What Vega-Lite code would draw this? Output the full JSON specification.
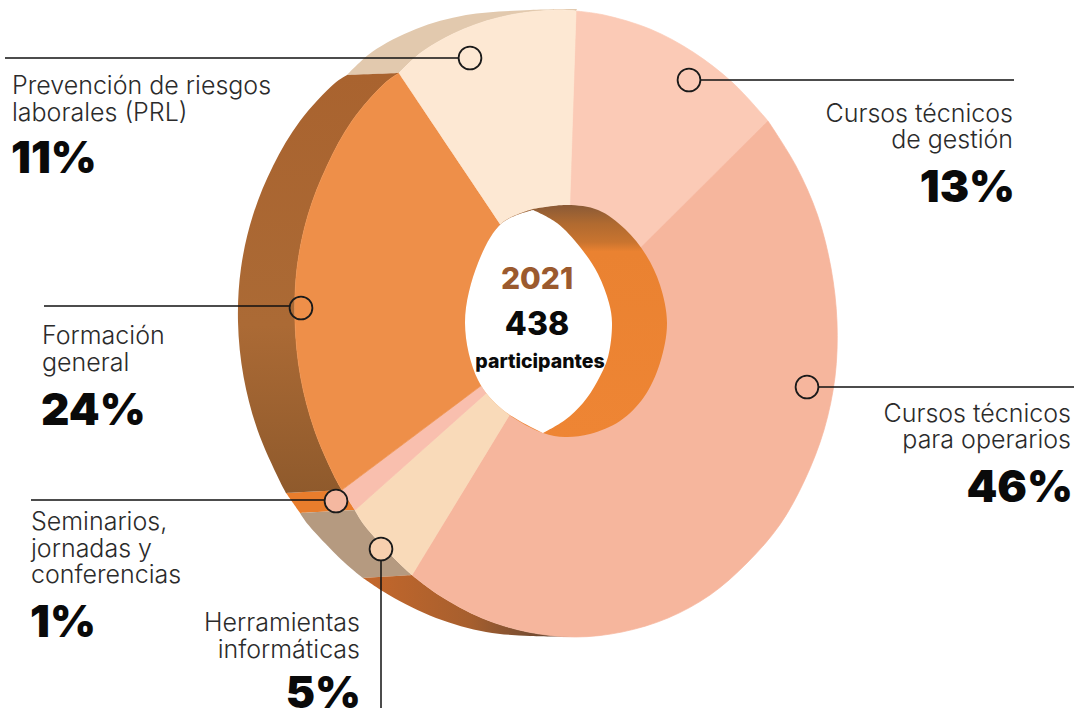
{"$schema":"https://vega.github.io/schema/vega-lite/v6.json","width":1080,"height":713,"padding":0,"autosize":"none","background":"white","view":{"stroke":null},
"datasets":{
"shapes":[
{"p":"tan","i":0,"x":399,"y":73},{"p":"tan","i":1,"x":347,"y":75},{"p":"tan","i":2,"x":347,"y":75},{"p":"tan","i":3,"x":372,"y":52},{"p":"tan","i":4,"x":416,"y":29},{"p":"tan","i":5,"x":466,"y":15},{"p":"tan","i":6,"x":530,"y":10},{"p":"tan","i":7,"x":577,"y":9},{"p":"tan","i":8,"x":577,"y":9},{"p":"tan","i":9,"x":576,"y":11},{"p":"tan","i":10,"x":576,"y":11},{"p":"tan","i":11,"x":557,"y":10},{"p":"tan","i":12,"x":510,"y":15},{"p":"tan","i":13,"x":464,"y":29},{"p":"tan","i":14,"x":422,"y":52},{"p":"tan","i":15,"x":399,"y":73},
{"p":"brown","i":0,"x":347,"y":75},{"p":"brown","i":1,"x":347,"y":75},{"p":"brown","i":2,"x":335,"y":83},{"p":"brown","i":3,"x":300,"y":121},{"p":"brown","i":4,"x":273,"y":166},{"p":"brown","i":5,"x":253,"y":215},{"p":"brown","i":6,"x":241,"y":268},{"p":"brown","i":7,"x":238,"y":322},{"p":"brown","i":8,"x":243.6,"y":377},{"p":"brown","i":9,"x":257.5,"y":430},{"p":"brown","i":10,"x":279,"y":479.5},{"p":"brown","i":11,"x":286,"y":493},{"p":"brown","i":12,"x":286,"y":493},{"p":"brown","i":13,"x":342,"y":490},{"p":"brown","i":14,"x":342,"y":490},{"p":"brown","i":15,"x":336,"y":479.5},{"p":"brown","i":16,"x":314.5,"y":430},{"p":"brown","i":17,"x":300.6,"y":377},{"p":"brown","i":18,"x":295,"y":322},{"p":"brown","i":19,"x":297,"y":268},{"p":"brown","i":20,"x":308,"y":215},{"p":"brown","i":21,"x":327,"y":166},{"p":"brown","i":22,"x":352,"y":121},{"p":"brown","i":23,"x":385,"y":83},{"p":"brown","i":24,"x":399,"y":73},{"p":"brown","i":25,"x":399,"y":73},{"p":"brown","i":26,"x":347,"y":75},{"p":"brown","i":27,"x":347,"y":75},
{"p":"strip","i":0,"x":286,"y":493},{"p":"strip","i":1,"x":286,"y":493},{"p":"strip","i":2,"x":300,"y":513},{"p":"strip","i":3,"x":300,"y":513},{"p":"strip","i":4,"x":355,"y":510},{"p":"strip","i":5,"x":355,"y":510},{"p":"strip","i":6,"x":342,"y":490},{"p":"strip","i":7,"x":342,"y":490},{"p":"strip","i":8,"x":286,"y":493},{"p":"strip","i":9,"x":286,"y":493},
{"p":"greytan","i":0,"x":300,"y":513},{"p":"greytan","i":1,"x":300,"y":513},{"p":"greytan","i":2,"x":308,"y":524.5},{"p":"greytan","i":3,"x":345,"y":563},{"p":"greytan","i":4,"x":363,"y":578},{"p":"greytan","i":5,"x":363,"y":578},{"p":"greytan","i":6,"x":412,"y":575},{"p":"greytan","i":7,"x":412,"y":575},{"p":"greytan","i":8,"x":399,"y":563},{"p":"greytan","i":9,"x":364,"y":524.5},{"p":"greytan","i":10,"x":355,"y":510},{"p":"greytan","i":11,"x":355,"y":510},{"p":"greytan","i":12,"x":300,"y":513},{"p":"greytan","i":13,"x":300,"y":513},
{"p":"bottom","i":0,"x":363,"y":578},{"p":"bottom","i":1,"x":363,"y":578},{"p":"bottom","i":2,"x":389,"y":595},{"p":"bottom","i":3,"x":436,"y":618},{"p":"bottom","i":4,"x":486,"y":632},{"p":"bottom","i":5,"x":530,"y":636},{"p":"bottom","i":6,"x":575.5,"y":637},{"p":"bottom","i":7,"x":575.5,"y":637},{"p":"bottom","i":8,"x":528,"y":632},{"p":"bottom","i":9,"x":482,"y":618},{"p":"bottom","i":10,"x":439,"y":595},{"p":"bottom","i":11,"x":412,"y":575},{"p":"bottom","i":12,"x":412,"y":575},{"p":"bottom","i":13,"x":363,"y":578},{"p":"bottom","i":14,"x":363,"y":578},
{"p":"gestion","i":0,"x":566,"y":322},{"p":"gestion","i":1,"x":566,"y":322},{"p":"gestion","i":2,"x":576,"y":11},{"p":"gestion","i":3,"x":576,"y":11},{"p":"gestion","i":4,"x":604,"y":15},{"p":"gestion","i":5,"x":650,"y":29},{"p":"gestion","i":6,"x":693,"y":52},{"p":"gestion","i":7,"x":733,"y":83},{"p":"gestion","i":8,"x":768,"y":121},{"p":"gestion","i":9,"x":768,"y":121},{"p":"gestion","i":10,"x":566,"y":322},{"p":"gestion","i":11,"x":566,"y":322},
{"p":"operarios","i":0,"x":566,"y":322},{"p":"operarios","i":1,"x":566,"y":322},{"p":"operarios","i":2,"x":768,"y":121},{"p":"operarios","i":3,"x":768,"y":121},{"p":"operarios","i":4,"x":796,"y":166},{"p":"operarios","i":5,"x":817.5,"y":215},{"p":"operarios","i":6,"x":831,"y":268},{"p":"operarios","i":7,"x":837,"y":322},{"p":"operarios","i":8,"x":835,"y":377},{"p":"operarios","i":9,"x":824,"y":430},{"p":"operarios","i":10,"x":805,"y":479.5},{"p":"operarios","i":11,"x":780,"y":524.5},{"p":"operarios","i":12,"x":747,"y":563},{"p":"operarios","i":13,"x":710,"y":595},{"p":"operarios","i":14,"x":668,"y":618},{"p":"operarios","i":15,"x":622,"y":632},{"p":"operarios","i":16,"x":575.5,"y":637},{"p":"operarios","i":17,"x":528,"y":632},{"p":"operarios","i":18,"x":482,"y":618},{"p":"operarios","i":19,"x":439,"y":595},{"p":"operarios","i":20,"x":412,"y":575},{"p":"operarios","i":21,"x":412,"y":575},{"p":"operarios","i":22,"x":566,"y":322},{"p":"operarios","i":23,"x":566,"y":322},
{"p":"herramientas","i":0,"x":566,"y":322},{"p":"herramientas","i":1,"x":566,"y":322},{"p":"herramientas","i":2,"x":412,"y":575},{"p":"herramientas","i":3,"x":412,"y":575},{"p":"herramientas","i":4,"x":399,"y":563},{"p":"herramientas","i":5,"x":364,"y":524.5},{"p":"herramientas","i":6,"x":355,"y":510},{"p":"herramientas","i":7,"x":355,"y":510},{"p":"herramientas","i":8,"x":566,"y":322},{"p":"herramientas","i":9,"x":566,"y":322},
{"p":"seminarios","i":0,"x":566,"y":322},{"p":"seminarios","i":1,"x":566,"y":322},{"p":"seminarios","i":2,"x":355,"y":510},{"p":"seminarios","i":3,"x":355,"y":510},{"p":"seminarios","i":4,"x":342,"y":490},{"p":"seminarios","i":5,"x":342,"y":490},{"p":"seminarios","i":6,"x":566,"y":322},{"p":"seminarios","i":7,"x":566,"y":322},
{"p":"general","i":0,"x":566,"y":322},{"p":"general","i":1,"x":566,"y":322},{"p":"general","i":2,"x":342,"y":490},{"p":"general","i":3,"x":342,"y":490},{"p":"general","i":4,"x":336,"y":479.5},{"p":"general","i":5,"x":314.5,"y":430},{"p":"general","i":6,"x":300.6,"y":377},{"p":"general","i":7,"x":295,"y":322},{"p":"general","i":8,"x":297,"y":268},{"p":"general","i":9,"x":308,"y":215},{"p":"general","i":10,"x":327,"y":166},{"p":"general","i":11,"x":352,"y":121},{"p":"general","i":12,"x":385,"y":83},{"p":"general","i":13,"x":399,"y":73},{"p":"general","i":14,"x":399,"y":73},{"p":"general","i":15,"x":566,"y":322},{"p":"general","i":16,"x":566,"y":322},
{"p":"prl","i":0,"x":566,"y":322},{"p":"prl","i":1,"x":566,"y":322},{"p":"prl","i":2,"x":399,"y":73},{"p":"prl","i":3,"x":399,"y":73},{"p":"prl","i":4,"x":422,"y":52},{"p":"prl","i":5,"x":464,"y":29},{"p":"prl","i":6,"x":510,"y":15},{"p":"prl","i":7,"x":557,"y":10},{"p":"prl","i":8,"x":576,"y":11},{"p":"prl","i":9,"x":576,"y":11},{"p":"prl","i":10,"x":566,"y":322},{"p":"prl","i":11,"x":566,"y":322},
{"p":"wall","i":0,"x":533,"y":209},{"p":"wall","i":1,"x":567,"y":205},{"p":"wall","i":2,"x":598,"y":210},{"p":"wall","i":3,"x":625,"y":229},{"p":"wall","i":4,"x":646,"y":255},{"p":"wall","i":5,"x":660,"y":285},{"p":"wall","i":6,"x":667,"y":323},{"p":"wall","i":7,"x":660,"y":363},{"p":"wall","i":8,"x":644,"y":397},{"p":"wall","i":9,"x":620,"y":421},{"p":"wall","i":10,"x":590,"y":434},{"p":"wall","i":11,"x":565,"y":437},{"p":"wall","i":12,"x":543,"y":433},{"p":"wall","i":13,"x":503,"y":410},{"p":"wall","i":14,"x":478,"y":380},{"p":"wall","i":15,"x":465,"y":323},{"p":"wall","i":16,"x":478,"y":263},{"p":"wall","i":17,"x":502,"y":223},{"p":"wall","i":18,"x":533,"y":209},
{"p":"lens","i":0,"x":533,"y":210},{"p":"lens","i":1,"x":533,"y":210},{"p":"lens","i":2,"x":557,"y":223},{"p":"lens","i":3,"x":580,"y":247},{"p":"lens","i":4,"x":598,"y":274},{"p":"lens","i":5,"x":609,"y":303},{"p":"lens","i":6,"x":612,"y":323},{"p":"lens","i":7,"x":608,"y":357},{"p":"lens","i":8,"x":597,"y":382},{"p":"lens","i":9,"x":583,"y":403},{"p":"lens","i":10,"x":565,"y":420},{"p":"lens","i":11,"x":543,"y":433},{"p":"lens","i":12,"x":543,"y":433},{"p":"lens","i":13,"x":503,"y":410},{"p":"lens","i":14,"x":478,"y":380},{"p":"lens","i":15,"x":465,"y":323},{"p":"lens","i":16,"x":478,"y":263},{"p":"lens","i":17,"x":502,"y":223},{"p":"lens","i":18,"x":533,"y":210},{"p":"lens","i":19,"x":533,"y":210}
],
"leaders":[
{"cat":"Prevención de riesgos laborales (PRL)","x":5,"y":58,"x2":459,"y2":58},
{"cat":"Cursos técnicos de gestión","x":700,"y":80,"x2":1014,"y2":80},
{"cat":"Formación general","x":44,"y":306,"x2":290,"y2":306},
{"cat":"Cursos técnicos para operarios","x":819,"y":387,"x2":1074,"y2":387},
{"cat":"Seminarios, jornadas y conferencias","x":31,"y":500,"x2":325,"y2":500},
{"cat":"Herramientas informáticas","x":381,"y":561,"x2":381,"y2":708}
],
"dots":[
{"part":"none","x":470,"y":58},{"part":"none","x":689,"y":80},{"part":"none","x":301,"y":308},{"part":"none","x":807,"y":387},{"part":"dotSem","x":336,"y":501},{"part":"dotHer","x":381,"y":549}
]
},
"encoding":{
"x":{"field":"x","type":"quantitative","scale":{"domain":[0,1080],"nice":false,"zero":false},"axis":null},
"y":{"field":"y","type":"quantitative","scale":{"domain":[713,0],"nice":false,"zero":false},"axis":null}
},
"resolve":{"scale":{"fill":"independent","stroke":"independent"}},
"layer":[
{"data":{"name":"shapes"},"transform":[{"filter":{"field":"p","oneOf":["tan","strip","greytan"]}}],
"mark":{"type":"line","strokeWidth":0,"interpolate":"catmull-rom"},
"encoding":{"order":{"field":"i","type":"quantitative"},"detail":{"field":"p"},
"fill":{"field":"p","type":"nominal","legend":null,"scale":{"domain":["tan","strip","greytan"],"range":["#e2c9ae","#e97d2c","#b59a80"]}}}},
{"data":{"name":"shapes"},"transform":[{"filter":{"field":"p","equal":"brown"}}],
"mark":{"type":"line","interpolate":"catmull-rom","strokeWidth":0,"fill":{"gradient":"linear","x1":0,"y1":0,"x2":0,"y2":1,"stops":[{"offset":0,"color":"#a9632f"},{"offset":0.6,"color":"#ab6a35"},{"offset":1,"color":"#8f5a2c"}]}},
"encoding":{"order":{"field":"i","type":"quantitative"}}},
{"data":{"name":"shapes"},"transform":[{"filter":{"field":"p","equal":"bottom"}}],
"mark":{"type":"line","interpolate":"catmull-rom","strokeWidth":0,"fill":{"gradient":"linear","x1":0,"y1":0,"x2":1,"y2":0,"stops":[{"offset":0,"color":"#c4672b"},{"offset":0.5,"color":"#a75f2e"},{"offset":0.85,"color":"#6e4a33"},{"offset":1,"color":"#4f3b30"}]}},
"encoding":{"order":{"field":"i","type":"quantitative"}}},
{"data":{"name":"shapes"},"transform":[{"filter":{"field":"p","oneOf":["gestion","operarios","herramientas","seminarios","general","prl"]}}],
"mark":{"type":"line","strokeWidth":0.7,"interpolate":"catmull-rom"},
"encoding":{"order":{"field":"i","type":"quantitative"},"detail":{"field":"p"},
"fill":{"field":"p","type":"nominal","legend":null,"scale":{"domain":["gestion","operarios","herramientas","seminarios","general","prl"],"range":["#fbcab6","#f6b69d","#f9dab9","#f9bfae","#ee8f49","#fde8d3"]}},
"stroke":{"field":"p","type":"nominal","legend":null,"scale":{"domain":["gestion","operarios","herramientas","seminarios","general","prl"],"range":["#fbcab6","#f6b69d","#f9dab9","#f9bfae","#ee8f49","#fde8d3"]}}}},
{"data":{"name":"shapes"},"transform":[{"filter":{"field":"p","equal":"wall"}}],
"mark":{"type":"line","interpolate":"catmull-rom","strokeWidth":0,"fill":{"gradient":"linear","x1":0,"y1":0,"x2":0,"y2":1,"stops":[{"offset":0,"color":"#8a5a36"},{"offset":0.08,"color":"#b06a30"},{"offset":0.16,"color":"#c9742f"},{"offset":0.2,"color":"#ea8231"},{"offset":1,"color":"#ee8534"}]}},
"encoding":{"order":{"field":"i","type":"quantitative"}}},
{"data":{"name":"shapes"},"transform":[{"filter":{"field":"p","equal":"lens"}}],
"mark":{"type":"line","interpolate":"catmull-rom","strokeWidth":0,"fill":"#ffffff"},
"encoding":{"order":{"field":"i","type":"quantitative"}}},
{"data":{"name":"leaders"},"mark":{"type":"rule","color":"#111111","strokeWidth":1.5},
"encoding":{"x2":{"field":"x2"},"y2":{"field":"y2"}}},
{"data":{"name":"dots"},"mark":{"type":"point","shape":"circle","size":520,"filled":false,"strokeWidth":1.8,"stroke":"#1a1a1a","opacity":1},
"encoding":{"fill":{"field":"part","type":"nominal","legend":null,"scale":{"domain":["none","dotSem","dotHer"],"range":["transparent","#f5b8a0","#f7cfae"]}}}},
{"data":{"values":[
{"t":"Prevención de riesgos","x":12,"y":94},{"t":"laborales (PRL)","x":12,"y":121},
{"t":"Formación","x":42,"y":344},{"t":"general","x":42,"y":371},
{"t":"Seminarios,","x":31,"y":530},{"t":"jornadas y","x":31,"y":557},{"t":"conferencias","x":31,"y":583}]},
"mark":{"type":"text","align":"left","baseline":"alphabetic","font":"Inter","fontWeight":300,"fontSize":25,"color":"#2b2b2b"},"encoding":{"text":{"field":"t"}}},
{"data":{"values":[
{"t":"Cursos técnicos","x":1013,"y":122},{"t":"de gestión","x":1013,"y":148},
{"t":"Cursos técnicos","x":1071,"y":422},{"t":"para operarios","x":1071,"y":448},
{"t":"Herramientas","x":360,"y":631},{"t":"informáticas","x":360,"y":658}]},
"mark":{"type":"text","align":"right","baseline":"alphabetic","font":"Inter","fontWeight":300,"fontSize":25,"color":"#2b2b2b"},"encoding":{"text":{"field":"t"}}},
{"data":{"values":[
{"share":0.11,"x":11,"y":173},{"share":0.24,"x":41,"y":425},{"share":0.01,"x":30,"y":637}]},
"mark":{"type":"text","align":"left","baseline":"alphabetic","font":"Inter","fontWeight":900,"fontSize":44,"color":"#0a0a0a"},"encoding":{"text":{"field":"share","format":".0%"}}},
{"data":{"values":[
{"share":0.13,"x":1015,"y":202},{"share":0.46,"x":1073,"y":502},{"share":0.05,"x":361,"y":708}]},
"mark":{"type":"text","align":"right","baseline":"alphabetic","font":"Inter","fontWeight":900,"fontSize":44,"color":"#0a0a0a"},"encoding":{"text":{"field":"share","format":".0%"}}},
{"data":{"values":[{"t":"2021","x":537,"y":289}]},"mark":{"type":"text","align":"center","baseline":"alphabetic","font":"Inter","fontWeight":800,"fontSize":30,"color":"#9b5a2e"},"encoding":{"text":{"field":"t"}}},
{"data":{"values":[{"t":"438","x":537,"y":335}]},"mark":{"type":"text","align":"center","baseline":"alphabetic","font":"Inter","fontWeight":800,"fontSize":32,"color":"#0a0a0a"},"encoding":{"text":{"field":"t"}}},
{"data":{"values":[{"t":"participantes","x":540,"y":368}]},"mark":{"type":"text","align":"center","baseline":"alphabetic","font":"Inter","fontWeight":800,"fontSize":19.5,"color":"#0a0a0a"},"encoding":{"text":{"field":"t"}}}
]}
